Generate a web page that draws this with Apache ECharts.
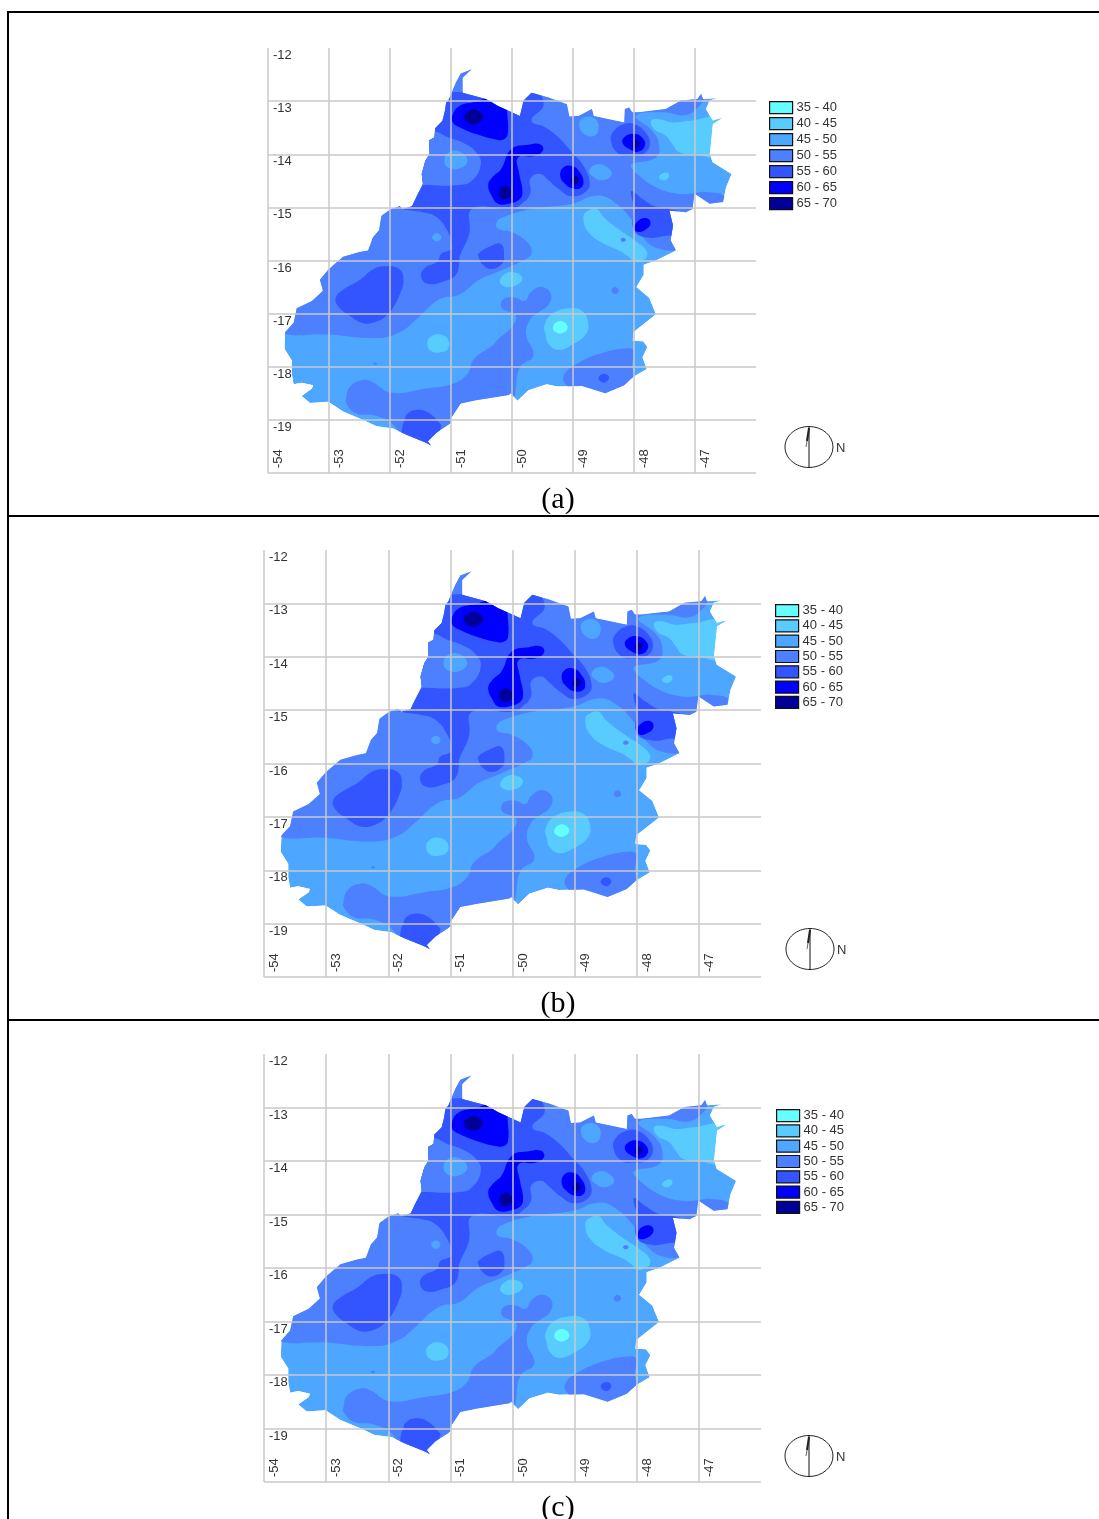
<!DOCTYPE html>
<html><head><meta charset="utf-8">
<style>html,body{margin:0;padding:0;background:#fff}#c{width:1099px;height:1519px}</style>
<script src="https://cdn.jsdelivr.net/npm/echarts@6/dist/echarts.min.js"></script>
</head><body><div id="c"></div>
<script>
const bandLabels = ["35 - 40","40 - 45","45 - 50","50 - 55","55 - 60","60 - 65","65 - 70"];
const bandColors = ["#66ffff","#59ccff","#4da6ff","#4d80ff","#3355ff","#0000ff","#000099"];
const captions = ["(a)","(b)","(c)"];

const stateOutline = [[-50.66,-12.40],[-50.84,-12.48],[-50.92,-12.65],[-50.99,-12.84],[-51.03,-12.96],[-51.08,-13.03],[-51.10,-13.18],[-51.14,-13.37],[-51.26,-13.51],[-51.27,-13.68],[-51.36,-13.74],[-51.35,-13.99],[-51.42,-14.12],[-51.48,-14.37],[-51.46,-14.56],[-51.57,-14.81],[-51.64,-14.98],[-51.79,-15.03],[-51.84,-14.98],[-51.98,-15.03],[-52.14,-15.15],[-52.18,-15.43],[-52.28,-15.56],[-52.36,-15.81],[-52.50,-15.84],[-52.77,-15.93],[-53.01,-16.17],[-53.15,-16.36],[-53.10,-16.57],[-53.28,-16.76],[-53.53,-16.90],[-53.58,-17.17],[-53.72,-17.35],[-53.73,-17.66],[-53.61,-17.88],[-53.61,-18.13],[-53.58,-18.33],[-53.45,-18.30],[-53.26,-18.35],[-53.28,-18.41],[-53.45,-18.55],[-53.31,-18.68],[-53.01,-18.66],[-52.77,-18.84],[-52.44,-19.00],[-52.22,-19.12],[-51.95,-19.16],[-51.73,-19.28],[-51.41,-19.43],[-51.33,-19.48],[-51.38,-19.40],[-51.24,-19.24],[-51.00,-19.06],[-51.00,-18.97],[-50.84,-18.69],[-50.59,-18.63],[-50.05,-18.53],[-50.02,-18.50],[-49.91,-18.64],[-49.73,-18.44],[-49.43,-18.33],[-49.26,-18.37],[-48.85,-18.36],[-48.47,-18.50],[-48.16,-18.35],[-48.01,-18.19],[-47.79,-18.04],[-47.86,-17.82],[-47.78,-17.63],[-47.85,-17.52],[-48.02,-17.51],[-48.01,-17.35],[-47.64,-17.01],[-47.75,-16.70],[-47.96,-16.50],[-47.84,-16.27],[-47.84,-16.08],[-47.64,-16.00],[-47.31,-15.81],[-47.40,-15.62],[-47.36,-15.34],[-47.42,-15.06],[-47.15,-15.09],[-47.04,-15.03],[-47.01,-14.74],[-46.76,-14.93],[-46.54,-14.90],[-46.49,-14.62],[-46.40,-14.37],[-46.71,-14.15],[-46.76,-13.99],[-46.71,-13.43],[-46.54,-13.31],[-46.71,-13.37],[-46.82,-13.15],[-46.76,-12.99],[-46.63,-12.94],[-46.87,-12.96],[-46.90,-12.86],[-46.96,-12.96],[-47.23,-12.99],[-47.48,-13.15],[-47.92,-13.21],[-48.03,-13.21],[-48.08,-13.12],[-48.15,-13.15],[-48.16,-13.40],[-48.41,-13.34],[-48.66,-13.28],[-48.69,-13.15],[-48.91,-13.28],[-49.06,-13.29],[-49.10,-13.06],[-49.40,-12.93],[-49.68,-12.84],[-49.81,-12.99],[-49.87,-13.28],[-50.23,-13.09],[-50.32,-13.03],[-50.43,-12.96],[-50.81,-12.84],[-50.81,-12.56]];

const north50 = [[-53.80,-17.35],[-53.04,-17.39],[-52.22,-17.46],[-51.84,-17.35],[-51.57,-17.11],[-51.19,-16.73],[-50.86,-16.64],[-50.54,-16.36],[-50.21,-16.20],[-49.76,-15.96],[-49.68,-15.87],[-49.73,-15.68],[-50.01,-15.46],[-50.23,-15.40],[-50.25,-15.28],[-50.14,-15.18],[-49.68,-15.03],[-49.02,-14.93],[-48.63,-14.78],[-48.36,-14.87],[-48.03,-15.24],[-47.86,-15.56],[-47.59,-15.78],[-47.26,-15.74],[-47.15,-15.12],[-46.38,-15.12],[-46.49,-14.81],[-46.82,-14.71],[-47.04,-14.74],[-47.31,-14.74],[-47.64,-14.62],[-47.92,-14.40],[-48.05,-14.24],[-48.03,-14.18],[-47.64,-14.06],[-47.59,-13.81],[-47.70,-13.56],[-47.97,-13.28],[-47.53,-13.21],[-47.15,-13.26],[-46.93,-13.09],[-46.85,-12.93],[-46.85,-12.74],[-50.0,-12.2],[-51.5,-12.2],[-51.6,-13],[-52,-15],[-53,-15.5],[-54,-17]];
const south50 = [[-52.72,-18.69],[-52.72,-18.60],[-52.66,-18.38],[-52.44,-18.25],[-52.28,-18.29],[-51.98,-18.49],[-51.41,-18.41],[-50.97,-18.32],[-50.73,-18.13],[-50.62,-17.85],[-50.32,-17.60],[-50.23,-17.48],[-50.01,-17.26],[-49.94,-17.04],[-50.17,-16.89],[-50.14,-16.73],[-49.95,-16.70],[-49.79,-16.76],[-49.70,-16.61],[-49.54,-16.50],[-49.37,-16.61],[-49.40,-16.83],[-49.57,-16.98],[-49.70,-17.11],[-49.77,-17.39],[-49.65,-17.79],[-49.87,-18.01],[-49.95,-18.50],[-50.01,-18.81],[-50.86,-18.94],[-51.41,-19.56],[-51.79,-19.31],[-51.98,-19.06],[-52.28,-18.91],[-52.55,-18.88]];
const southeast50 = [[-49.15,-18.16],[-48.99,-17.98],[-48.58,-17.76],[-48.11,-17.65],[-48.01,-17.70],[-48.03,-17.98],[-48.01,-18.20],[-48.14,-18.44],[-48.47,-18.63],[-48.96,-18.44],[-49.13,-18.32]];
const hollow50 = [[-51.46,-13.59],[-51.26,-13.57],[-51.05,-13.68],[-50.81,-13.78],[-50.59,-13.96],[-50.51,-14.18],[-50.65,-14.49],[-50.86,-14.58],[-51.46,-14.58],[-51.57,-14.56],[-51.60,-14.00]];
const dotEast50 = [[-48.37,-16.57],[-48.31,-16.50],[-48.25,-16.57],[-48.31,-16.63]];
const dotWest50 = [[-52.28,-17.94],[-52.25,-17.92],[-52.21,-17.94],[-52.24,-17.97]];
const dotStrip50 = [[-48.22,-15.61],[-48.18,-15.57],[-48.13,-15.61],[-48.18,-15.65]];

const island45a = [[-48.90,-13.43],[-48.82,-13.31],[-48.65,-13.32],[-48.58,-13.48],[-48.65,-13.65],[-48.82,-13.62]];
const island45b = [[-48.73,-14.31],[-48.60,-14.19],[-48.41,-14.27],[-48.37,-14.40],[-48.52,-14.49],[-48.66,-14.43]];
const island45c = [[-51.11,-14.12],[-51.03,-13.96],[-50.84,-13.96],[-50.73,-14.12],[-50.84,-14.26],[-51.03,-14.26]];
const island45d = [[-51.31,-15.56],[-51.23,-15.48],[-51.16,-15.56],[-51.23,-15.64]];

const strip40 = [[-48.83,-15.18],[-48.75,-15.06],[-48.61,-15.03],[-48.50,-15.18],[-48.23,-15.43],[-47.95,-15.65],[-47.80,-15.81],[-47.79,-15.93],[-47.85,-15.99],[-47.98,-16.03],[-48.09,-15.93],[-48.25,-15.81],[-48.50,-15.68],[-48.75,-15.46]];
const northeast40 = [[-47.72,-13.37],[-47.59,-13.34],[-47.37,-13.40],[-47.09,-13.37],[-46.60,-13.34],[-46.60,-14.03],[-46.98,-14.01],[-47.26,-13.96],[-47.37,-13.81],[-47.48,-13.65],[-47.67,-13.53]];
const dot40 = [[-47.59,-14.43],[-47.51,-14.35],[-47.43,-14.37],[-47.45,-14.46],[-47.54,-14.49]];
const centre40 = [[-50.20,-16.39],[-50.11,-16.25],[-49.98,-16.22],[-49.84,-16.30],[-49.87,-16.42],[-50.03,-16.50],[-50.14,-16.48]];
const core40 = [[-49.47,-17.23],[-49.35,-17.01],[-49.07,-16.90],[-48.85,-16.95],[-48.75,-17.17],[-48.79,-17.39],[-48.99,-17.57],[-49.24,-17.68],[-49.40,-17.57],[-49.45,-17.39]];
const west40 = [[-51.39,-17.56],[-51.33,-17.43],[-51.19,-17.39],[-51.05,-17.48],[-51.05,-17.66],[-51.19,-17.73],[-51.33,-17.70]];
const core35 = [[-49.33,-17.26],[-49.25,-17.15],[-49.13,-17.17],[-49.09,-17.28],[-49.18,-17.37],[-49.28,-17.35]];

const north55 = [[-51.08,-12.85],[-50.38,-12.87],[-49.90,-12.81],[-49.68,-12.74],[-49.48,-13.06],[-49.68,-13.37],[-49.46,-13.49],[-49.24,-13.68],[-49.02,-13.96],[-48.85,-14.18],[-48.73,-14.49],[-48.77,-14.68],[-49.02,-14.79],[-49.24,-14.65],[-49.40,-14.49],[-49.54,-14.37],[-49.70,-14.46],[-49.70,-14.74],[-49.84,-14.93],[-50.01,-15.03],[-50.65,-15.03],[-50.70,-15.49],[-50.86,-15.93],[-50.86,-16.02],[-50.92,-16.27],[-51.11,-16.39],[-51.38,-16.44],[-51.49,-16.30],[-51.43,-16.14],[-51.22,-16.02],[-51.16,-15.87],[-51.03,-15.81],[-50.98,-15.74],[-51.05,-15.46],[-51.24,-15.18],[-51.46,-15.09],[-51.79,-15.03],[-51.95,-14.93],[-51.73,-14.37],[-51.46,-13.74],[-51.30,-13.49],[-51.19,-13.06]];
const lobe55 = [[-50.55,-15.87],[-50.37,-15.74],[-50.18,-15.69],[-50.13,-15.96],[-50.18,-16.08],[-50.34,-16.16],[-50.48,-16.08],[-50.55,-15.93]];
const west55 = [[-52.89,-16.70],[-52.77,-16.55],[-52.49,-16.36],[-52.28,-16.17],[-52.09,-16.11],[-51.84,-16.17],[-51.78,-16.39],[-51.84,-16.64],[-51.95,-16.89],[-52.03,-17.01],[-52.22,-17.15],[-52.44,-17.18],[-52.66,-17.04],[-52.85,-16.86]];
const south55 = [[-51.76,-19.00],[-51.71,-18.88],[-51.54,-18.81],[-51.35,-18.88],[-51.19,-19.06],[-51.16,-19.12],[-51.25,-19.35],[-51.30,-19.56],[-51.79,-19.40],[-51.80,-19.15]];
const east55 = [[-48.04,-14.69],[-47.86,-14.84],[-47.64,-14.99],[-47.42,-15.03],[-47.26,-15.12],[-47.26,-15.56],[-47.42,-15.53],[-47.75,-15.57],[-48.00,-15.43],[-48.00,-14.99],[-48.04,-14.81]];
const ring55 = [[-48.38,-13.74],[-48.33,-13.56],[-48.16,-13.43],[-48.00,-13.43],[-47.81,-13.59],[-47.74,-13.81],[-47.84,-13.99],[-48.03,-14.03],[-48.25,-13.99]];
const dot55 = [[-48.58,-18.20],[-48.49,-18.13],[-48.41,-18.19],[-48.46,-18.29],[-48.54,-18.28]];

const northwest60 = [[-50.98,-13.28],[-50.86,-13.09],[-50.59,-13.01],[-50.38,-12.95],[-50.08,-13.05],[-50.08,-13.18],[-50.07,-13.62],[-50.14,-13.72],[-50.27,-13.72],[-50.59,-13.62],[-50.86,-13.49],[-50.97,-13.40]];
const centre60 = [[-50.39,-14.59],[-50.32,-14.43],[-50.18,-14.28],[-50.01,-13.90],[-49.73,-13.82],[-49.54,-13.81],[-49.49,-13.92],[-49.62,-14.03],[-49.90,-14.06],[-49.88,-14.37],[-49.83,-14.68],[-49.87,-14.84],[-50.06,-14.93],[-50.23,-14.93],[-50.32,-14.81]];
const mid60 = [[-49.21,-14.40],[-49.15,-14.24],[-48.99,-14.23],[-48.89,-14.34],[-48.83,-14.49],[-48.86,-14.62],[-48.98,-14.65],[-49.13,-14.56]];
const ring60 = [[-48.19,-13.78],[-48.13,-13.65],[-47.97,-13.62],[-47.85,-13.71],[-47.82,-13.84],[-47.92,-13.95],[-48.05,-13.92]];
const east60 = [[-47.99,-15.37],[-47.92,-15.24],[-47.78,-15.21],[-47.73,-15.31],[-47.81,-15.42],[-47.95,-15.46]];

const core65a = [[-50.78,-13.29],[-50.70,-13.18],[-50.57,-13.17],[-50.48,-13.29],[-50.55,-13.41],[-50.70,-13.42]];
const core65b = [[-50.21,-14.69],[-50.12,-14.59],[-50.02,-14.65],[-50.01,-14.78],[-50.12,-14.84],[-50.20,-14.79]];
const core65c = [[-49.04,-14.48],[-48.97,-14.41],[-48.90,-14.46],[-48.94,-14.56],[-49.01,-14.56]];
const core65d = [[-48.03,-13.81],[-47.97,-13.73],[-47.91,-13.78],[-47.93,-13.86],[-48.00,-13.87]];

/* paint order: later entries cover earlier ones; [band index, polygon] */
const paintOrder = [
  [2,stateOutline],
  [3,north50],[3,south50],[3,southeast50],
  [4,north55],[4,lobe55],[4,west55],[4,south55],[4,east55],[4,ring55],
  [3,hollow50],
  [2,island45a],[2,island45b],[2,island45c],[2,island45d],
  [1,strip40],[1,northeast40],[1,dot40],[1,centre40],[1,core40],[1,west40],
  [0,core35],
  [3,dotEast50],[3,dotWest50],[3,dotStrip50],
  [4,dot55],
  [5,northwest60],[5,centre60],[5,mid60],[5,ring60],[5,east60],
  [6,core65a],[6,core65b],[6,core65c],[6,core65d]
];

const panels = [
  {g:[268,48,488,425],  lg:[769,101,2.8,23,796], cap:485, nc:[809,447]},
  {g:[264,550,497,427], lg:[775,604,2.1,23,802], cap:989, nc:[810,949]},
  {g:[264,1054,497,428],lg:[776,1109,2.1,23,803], cap:1493, nc:[809,1456]}
];

const grid=[],xAxis=[],yAxis=[],series=[],legend=[],title=[],graphic=[];
const font='"Liberation Sans",Arial,sans-serif';

function makeRender(items){
  return function(params,api){
    const it=items[params.dataIndex];
    const toPx=p=>api.coord(p);
    return {type:'group',
      clipPath:{type:'polygon',shape:{points:stateOutline.map(toPx)}},
      children:[{type:'polygon',z2:it.order,
        shape:{points:it.poly.map(toPx),smooth:it.poly===stateOutline?0:0.45},
        style:{fill:api.visual('color'),stroke:null}}]};
  };
}

panels.forEach((p,i)=>{
  grid.push({left:p.g[0],top:p.g[1],width:p.g[2],height:p.g[3],containLabel:false});
  const line={show:true,lineStyle:{color:'#c9c9c9',width:1.5}};
  xAxis.push({type:'value',gridIndex:i,min:-54,max:-46,interval:1,z:5,
    axisLine:{show:false},axisTick:{show:false},
    splitLine:Object.assign({showMaxLine:false,showMinLine:true},line),
    axisLabel:{inside:true,rotate:90,margin:5,showMaxLabel:false,showMinLabel:true,align:'left',verticalAlign:'top',
      padding:[4,0,0,0],fontFamily:font,fontSize:13,color:'#333',formatter:v=>String(v)}});
  yAxis.push({type:'value',gridIndex:i,min:-20,max:-12,interval:1,z:5,
    axisLine:{show:false},axisTick:{show:false},
    splitLine:Object.assign({showMaxLine:false,showMinLine:true},line),
    axisLabel:{inside:true,margin:5,showMinLabel:false,showMaxLabel:true,verticalAlign:'top',
      padding:[1,0,0,0],fontFamily:font,fontSize:13,color:'#333',formatter:v=>String(v)}});
  bandLabels.forEach((name,b)=>{
    const items=[];
    paintOrder.forEach((e,k)=>{ if(e[0]===b) items.push({poly:e[1],order:k}); });
    series.push({type:'custom',name:name,coordinateSystem:'cartesian2d',xAxisIndex:i,yAxisIndex:i,
      z:2,silent:true,animation:false,clip:false,
      itemStyle:{color:bandColors[b]},
      data:items.map(it=>it.poly[0]),
      renderItem:makeRender(items)});
  });
  legend.push({data:bandLabels,orient:'vertical',left:p.lg[0],top:p.lg[1],itemWidth:p.lg[3],itemHeight:12,
    itemGap:p.lg[2],icon:'rect',selectedMode:false,padding:0,
    itemStyle:{borderColor:'#111',borderWidth:1.2},
    textStyle:{fontFamily:font,fontSize:13,color:'#333',padding:[0,0,0,-1],lineHeight:12}});
  title.push({text:captions[i],left:558,top:p.cap,textAlign:'center',padding:0,
    textStyle:{fontFamily:'"Liberation Serif","Times New Roman",serif',fontSize:30,fontWeight:'normal',color:'#000'}});
  const c=p.nc;
  graphic.push({type:'ellipse',shape:{cx:c[0],cy:c[1],rx:24,ry:20.5},style:{fill:'#fff',stroke:'#222',lineWidth:1}});
  graphic.push({type:'line',shape:{x1:c[0],y1:c[1]-20.5,x2:c[0],y2:c[1]+20.5},style:{stroke:'#111',lineWidth:1}});
  graphic.push({type:'line',shape:{x1:c[0],y1:c[1]-19,x2:c[0]-2,y2:c[1]-6},style:{stroke:'#222',lineWidth:2}});
  graphic.push({type:'line',shape:{x1:c[0]-2,y1:c[1]-6,x2:c[0]-3,y2:c[1]},style:{stroke:'#666',lineWidth:1}});
  graphic.push({type:'text',x:c[0]+27,y:c[1]-5,style:{text:'N',fontFamily:font,fontSize:13,fill:'#333'}});
});
/* table rules */
[[8,12,8,1519],[7,12,1099,12],[7,516,1099,516],[7,1020,1099,1020]].forEach(r=>{
  graphic.push({type:'line',shape:{x1:r[0],y1:r[1],x2:r[2],y2:r[3]},style:{stroke:'#000',lineWidth:2}});
});

const chart=echarts.init(document.getElementById('c'),null,{renderer:'canvas'});
chart.setOption({animation:false,backgroundColor:'#fff',grid,xAxis,yAxis,series,legend,title,graphic:{elements:graphic}});
</script></body></html>
